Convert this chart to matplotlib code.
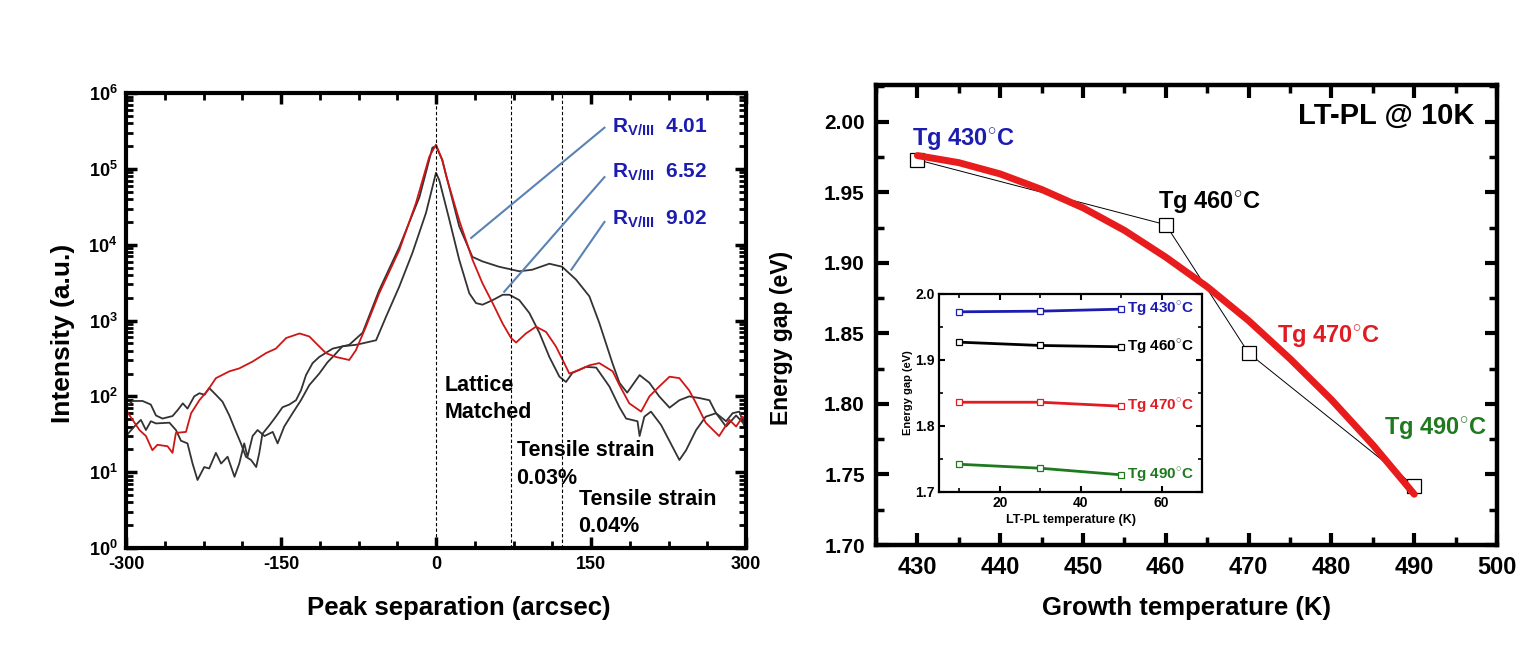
import numpy as np
import matplotlib.pyplot as plt
from matplotlib.ticker import MultipleLocator, LogLocator, FuncFormatter, NullFormatter

plt.rcParams['font.family'] = ['Liberation Sans', 'DejaVu Sans']
plt.rcParams['font.weight'] = 'bold'
plt.rcParams['axes.unicode_minus'] = False
plt.rcParams['mathtext.fontset'] = 'custom'
plt.rcParams['mathtext.rm'] = 'Liberation Sans:bold'
plt.rcParams['mathtext.bf'] = 'Liberation Sans:bold'
NARROW = ['Liberation Sans Narrow', 'Liberation Sans', 'DejaVu Sans']

### XRD rocking curves : peak separation (arcsec) vs intensity (a.u.)
red_x = [-300, -287, -280.7, -274.5, -269.6, -259.8, -255, -251.7, -242, -237, -229, -221, -213, -200,
         -190.4, -177.5, -164.6, -155, -145, -132, -122.6, -116, -106.5, -96.8, -84, -77.5, -67.8, -55,
         -35.5, -19.4, -6.5, 0, 6, 10, 22.5, 35.4, 45, 54.8, 64.5, 72.6, 77.5, 87, 96.8, 106.5, 116,
         122.6, 129, 138.7, 148.4, 158, 171, 177.5, 187, 198.5, 206.5, 216, 226, 235.5, 245, 251.7,
         261, 274, 284, 290.4, 296.8, 300]
red_I = [66, 36, 30, 19.5, 23, 22, 18, 33, 34, 60, 89, 120, 174, 214,
         234, 288, 372, 427, 589, 676, 617, 501, 372, 331, 302, 407, 832, 2290,
         8510, 35500, 145000, 209000, 132000, 79400, 20900, 6310, 3090, 1700, 912, 589, 513, 676, 832, 708, 457,
         302, 200, 224, 257, 275, 214, 141, 81, 63, 100, 135, 182, 174, 120, 81,
         45, 30, 49, 40, 54, 45]

d1_x = [-300, -293.7, -284, -276, -271, -264.7, -255, -250, -245, -240.5, -234, -229, -224, -219.5,
        -213, -206.6, -200, -195, -188.8, -184, -179, -174, -171, -168, -161, -155, -148.5, -142,
        -135.5, -130.7, -125.8, -119.4, -113, -100, -84, -71, -55, -35.5, -16, -3.5, 0, 6, 22.5,
        35.2, 45, 61, 80.6, 93, 109.7, 122, 135.5, 148.4, 158, 170.7, 177.5, 185, 197, 206.5, 216,
        226, 235.5, 245, 255, 264.6, 271, 280.7, 290.4, 297, 300]
d1_I = [72, 87, 87, 78, 56, 51, 55, 66, 81, 69, 100, 110, 105, 129,
        105, 85, 56, 38, 24, 16, 14.5, 11.7, 18, 32, 42, 54, 72, 78,
        89, 120, 191, 275, 331, 427, 479, 692, 2510, 9330, 42700, 191000, 200000, 132000, 17400,
        6920, 6030, 5130, 4470, 4680, 5620, 5130, 3470, 2090, 933, 275, 151, 112, 191, 151, 100,
        71, 89, 100, 95, 89, 60, 40, 56, 45, 50]

d2_x = [-300, -292, -285.6, -280.7, -276, -271, -258, -251.7, -246.8, -240.5, -235.6, -230.8, -224.3,
        -219.5, -213, -208, -201.7, -195, -190.4, -185.6, -182.4, -177.5, -172.7, -166, -158, -153.3,
        -146.9, -138.8, -130.7, -122.6, -113, -105, -100, -90.6, -77.5, -71, -58, -48.4, -35.5, -22.9,
        -9.7, 0, 3.2, 12.9, 22.5, 32.2, 38.7, 45, 54.8, 64.5, 71, 80.6, 90.3, 100, 109.7, 119.4,
        125.8, 132, 145, 155, 167.8, 177.5, 184, 195, 197, 201.6, 208, 217.8, 225.8, 235.5, 242,
        251.7, 261, 271, 280.7, 287, 293.6, 298.5, 300]
d2_I = [30, 40, 49, 36, 47, 44, 45, 36, 26, 24, 13, 7.9, 11.7,
        11.2, 18, 13, 16, 8.7, 13, 24, 16, 30, 36, 30, 34, 24,
        40, 60, 89, 141, 200, 282, 331, 457, 479, 501, 550, 1120, 2820, 7760,
        26300, 89100, 70800, 21400, 6310, 2290, 1700, 1620, 1860, 2190, 2190, 1860, 1260, 692, 331, 182,
        155, 204, 245, 240, 135, 72, 51, 47, 30, 54, 63, 42, 26, 14.5, 19.5,
        36, 54, 60, 47, 60, 63, 40, 50]

strain_lines = [0, 73, 122]
rv3_labels = ['4.01', '6.52', '9.02']

### Energy gap vs growth temperature (LT-PL @ 10K)
tg = [430, 460, 470, 490]
eg = [1.973, 1.927, 1.836, 1.742]
fit_t = [430, 435, 440, 445, 450, 455, 460, 465, 470, 475, 480, 485, 490]
fit_e = [1.976, 1.971, 1.963, 1.952, 1.939, 1.923, 1.904, 1.883, 1.859, 1.832, 1.803, 1.771, 1.736]

### Inset : energy gap vs LT-PL temperature
lt_temp = [10, 30, 50]
inset_eg = {
    '430': [1.973, 1.974, 1.977],
    '460': [1.927, 1.922, 1.920],
    '470': [1.836, 1.836, 1.830],
    '490': [1.742, 1.736, 1.726],
}
tg_colors = {'430': '#1c1cb0', '460': 'black', '470': '#e01b22', '490': '#1f7a1f'}

fig = plt.figure(figsize=(15.2, 6.68), dpi=100)

#############      Left : XRD      #############
ax1 = fig.add_axes([0.0829, 0.1796, 0.4079, 0.681])
ax1.plot(d1_x, d1_I, color='#333333', lw=1.3)
ax1.plot(d2_x, d2_I, color='#333333', lw=1.3)
ax1.plot(red_x, red_I, color='#d01515', lw=1.3)
for xs in strain_lines:
    ax1.axvline(xs, color='black', lw=0.8, ls=(0, (3, 2)))

ax1.set_yscale('log')
ax1.set_xlim(-300, 300)
ax1.set_ylim(1, 1e6)
ax1.xaxis.set_major_locator(MultipleLocator(150))
ax1.xaxis.set_minor_locator(MultipleLocator(37.5))
ax1.yaxis.set_major_locator(LogLocator(base=10, numticks=10))
ax1.yaxis.set_minor_locator(LogLocator(base=10, subs=np.arange(2, 10), numticks=20))
ax1.yaxis.set_minor_formatter(NullFormatter())
ax1.yaxis.set_major_formatter(FuncFormatter(lambda v, p: r'$\mathbf{10^{%d}}$' % round(np.log10(v))))
ax1.tick_params(which='both', direction='in', top=True, right=True)
ax1.tick_params(which='major', length=8, width=2.5, labelsize=13, pad=6)
ax1.tick_params(which='minor', length=5, width=2)
for lab in ax1.get_xticklabels():
    lab.set_family(NARROW)
    lab.set_fontweight('bold')
for sp in ax1.spines.values():
    sp.set_linewidth(3)
ax1.set_xlabel('Peak separation (arcsec)', fontsize=18.5, fontweight='bold')
ax1.xaxis.set_label_coords(0.537, -0.105)
ax1.set_ylabel('Intensity (a.u.)', fontsize=19, fontweight='bold')
ax1.yaxis.set_label_coords(-0.082, 0.4725)

# R_V/III labels with leader lines
label_y = [3.5e5, 9.1e4, 2.15e4]
line_start = [(163, 3.5e5), (163, 7.8e4), (163, 2.0e4)]
line_end = [(34, 1.23e4), (66, 2.4e3), (131, 4.7e3)]
for txt, ly, (sx, sy), (ex, ey) in zip(rv3_labels, label_y, line_start, line_end):
    ax1.plot([sx, ex], [sy, ey], color='#5a82b4', lw=1.5)
    ax1.text(170, ly, r'R$_{\mathbf{V/III}}$  ' + txt, color='#1c1cb0', fontsize=15,
             fontweight='bold', va='center', ha='left')

ax1.text(8, 138, 'Lattice', fontsize=15.5, fontweight='bold', va='center')
ax1.text(8, 62, 'Matched', fontsize=15.5, fontweight='bold', va='center')
ax1.text(78, 19.5, 'Tensile strain', fontsize=15.5, fontweight='bold', va='center')
ax1.text(78, 8.3, '0.03%', fontsize=15.5, fontweight='bold', va='center')
ax1.text(138, 4.3, 'Tensile strain', fontsize=15.5, fontweight='bold', va='center')
ax1.text(138, 1.9, '0.04%', fontsize=15.5, fontweight='bold', va='center')

#############      Right : Energy gap      #############
ax2 = fig.add_axes([0.5763, 0.1841, 0.4086, 0.6886])
ax2.plot(tg, eg, color='black', lw=0.7, marker='s', ms=9.5, mfc='white', mec='black', mew=0.9, zorder=2)
ax2.plot(fit_t, fit_e, color='#e81c1c', lw=5, solid_capstyle='round', solid_joinstyle='round', zorder=3)
ax2.set_xlim(425, 500)
ax2.set_ylim(1.70, 2.026)
ax2.xaxis.set_major_locator(MultipleLocator(10))
ax2.xaxis.set_minor_locator(MultipleLocator(5))
ax2.yaxis.set_major_locator(MultipleLocator(0.05))
ax2.yaxis.set_minor_locator(MultipleLocator(0.025))
ax2.yaxis.set_major_formatter(FuncFormatter(lambda v, p: '%.2f' % v))
ax2.tick_params(which='both', direction='in', top=True, right=True)
ax2.tick_params(which='major', length=9, width=3, labelsize=15, pad=8)
ax2.tick_params(which='minor', length=6, width=2.5)
for lab in ax2.get_xticklabels():
    lab.set_family(NARROW)
    lab.set_fontsize(17)
for lab in ax2.get_xticklabels() + ax2.get_yticklabels():
    lab.set_fontweight('bold')
for sp in ax2.spines.values():
    sp.set_linewidth(3.2)
ax2.set_xlabel('Growth temperature (K)', fontsize=18.5, fontweight='bold', family=NARROW, labelpad=12)
ax2.set_ylabel('Energy gap (eV)', fontsize=16.5, fontweight='bold')
ax2.yaxis.set_label_coords(-0.133, 0.45)

ax2.text(497.3, 2.004, 'LT-PL @ 10K', fontsize=21, fontweight='bold', ha='right', va='center')
tg_text_pos = {'430': (429.4, 1.987), '460': (459.0, 1.942), '470': (473.4, 1.847), '490': (486.4, 1.782)}
for key, (tx, ty) in tg_text_pos.items():
    ax2.text(tx, ty, 'Tg ' + key + '$^{\\circ}$C', color=tg_colors[key], fontsize=17,
             fontweight='bold', va='center', ha='left')

#############      Inset      #############
ax3 = fig.add_axes([0.6178, 0.2635, 0.173, 0.2964])
for key, vals in inset_eg.items():
    ax3.plot(lt_temp, vals, color=tg_colors[key], lw=2, marker='s', ms=4.5, mfc='white',
             mec=tg_colors[key], mew=0.9)
    ax3.text(51.5, vals[-1], 'Tg ' + key + '$^{\\circ}$C', color=tg_colors[key], fontsize=11,
             fontweight='bold', family=NARROW, va='center', ha='left')
ax3.set_xlim(5, 70)
ax3.set_ylim(1.7, 2.0)
ax3.xaxis.set_major_locator(MultipleLocator(20))
ax3.xaxis.set_minor_locator(MultipleLocator(10))
ax3.yaxis.set_major_locator(MultipleLocator(0.1))
ax3.yaxis.set_minor_locator(MultipleLocator(0.05))
ax3.yaxis.set_major_formatter(FuncFormatter(lambda v, p: '%.1f' % v))
ax3.tick_params(which='both', direction='in', top=True, right=True)
ax3.tick_params(which='major', length=4, width=1.5, labelsize=10, pad=3)
ax3.tick_params(which='minor', length=3, width=1.2)
for lab in ax3.get_xticklabels() + ax3.get_yticklabels():
    lab.set_family(NARROW)
    lab.set_fontweight('bold')
for sp in ax3.spines.values():
    sp.set_linewidth(1.6)
ax3.set_xlabel('LT-PL temperature (K)', fontsize=9, fontweight='bold', family=NARROW, labelpad=3)
ax3.set_ylabel('Energy gap (eV)', fontsize=8, fontweight='bold', labelpad=2)

fig.savefig('out.png', dpi=100)
